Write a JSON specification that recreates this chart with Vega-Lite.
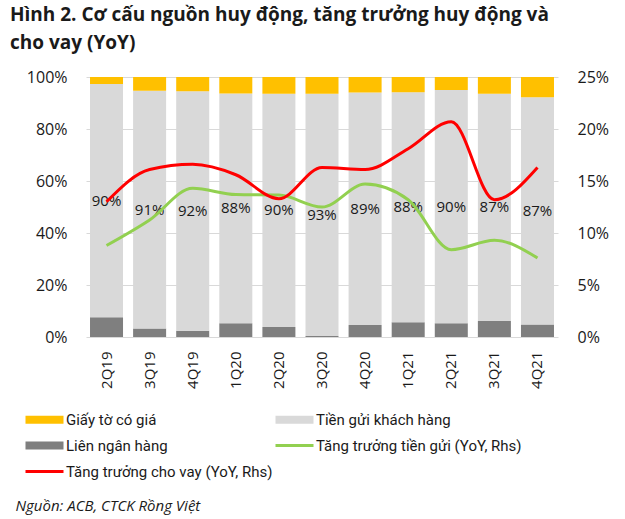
{
  "$schema": "https://vega.github.io/schema/vega-lite/v6.json",
  "width": 472,
  "height": 260,
  "autosize": {"type": "none"},
  "padding": {"left": 86, "top": 77, "right": 67, "bottom": 182},
  "background": "white",
  "config": {"font": "Open Sans", "view": {"stroke": null}},
  "title": {
    "text": ["Hình 2. Cơ cấu nguồn huy động, tăng trưởng huy động và", "cho vay (YoY)"],
    "anchor": "start",
    "frame": "group",
    "dx": -76,
    "fontSize": 19,
    "fontWeight": "bold",
    "font": "Open Sans",
    "color": "#1a1a1a",
    "lineHeight": 28,
    "offset": 16
  },
  "datasets": {
    "bars": [
      {"q": "2Q19", "cat": "Liên ngân hàng", "ord": 1, "value": 0.076},
      {"q": "2Q19", "cat": "Tiền gửi khách hàng", "ord": 2, "value": 0.897},
      {"q": "2Q19", "cat": "Giấy tờ có giá", "ord": 3, "value": 0.027},
      {"q": "3Q19", "cat": "Liên ngân hàng", "ord": 1, "value": 0.033},
      {"q": "3Q19", "cat": "Tiền gửi khách hàng", "ord": 2, "value": 0.914},
      {"q": "3Q19", "cat": "Giấy tờ có giá", "ord": 3, "value": 0.053},
      {"q": "4Q19", "cat": "Liên ngân hàng", "ord": 1, "value": 0.024},
      {"q": "4Q19", "cat": "Tiền gửi khách hàng", "ord": 2, "value": 0.921},
      {"q": "4Q19", "cat": "Giấy tờ có giá", "ord": 3, "value": 0.055},
      {"q": "1Q20", "cat": "Liên ngân hàng", "ord": 1, "value": 0.053},
      {"q": "1Q20", "cat": "Tiền gửi khách hàng", "ord": 2, "value": 0.884},
      {"q": "1Q20", "cat": "Giấy tờ có giá", "ord": 3, "value": 0.063},
      {"q": "2Q20", "cat": "Liên ngân hàng", "ord": 1, "value": 0.038},
      {"q": "2Q20", "cat": "Tiền gửi khách hàng", "ord": 2, "value": 0.898},
      {"q": "2Q20", "cat": "Giấy tờ có giá", "ord": 3, "value": 0.064},
      {"q": "3Q20", "cat": "Liên ngân hàng", "ord": 1, "value": 0.004},
      {"q": "3Q20", "cat": "Tiền gửi khách hàng", "ord": 2, "value": 0.932},
      {"q": "3Q20", "cat": "Giấy tờ có giá", "ord": 3, "value": 0.064},
      {"q": "4Q20", "cat": "Liên ngân hàng", "ord": 1, "value": 0.046},
      {"q": "4Q20", "cat": "Tiền gửi khách hàng", "ord": 2, "value": 0.894},
      {"q": "4Q20", "cat": "Giấy tờ có giá", "ord": 3, "value": 0.06},
      {"q": "1Q21", "cat": "Liên ngân hàng", "ord": 1, "value": 0.057},
      {"q": "1Q21", "cat": "Tiền gửi khách hàng", "ord": 2, "value": 0.884},
      {"q": "1Q21", "cat": "Giấy tờ có giá", "ord": 3, "value": 0.059},
      {"q": "2Q21", "cat": "Liên ngân hàng", "ord": 1, "value": 0.053},
      {"q": "2Q21", "cat": "Tiền gửi khách hàng", "ord": 2, "value": 0.897},
      {"q": "2Q21", "cat": "Giấy tờ có giá", "ord": 3, "value": 0.05},
      {"q": "3Q21", "cat": "Liên ngân hàng", "ord": 1, "value": 0.062},
      {"q": "3Q21", "cat": "Tiền gửi khách hàng", "ord": 2, "value": 0.874},
      {"q": "3Q21", "cat": "Giấy tờ có giá", "ord": 3, "value": 0.064},
      {"q": "4Q21", "cat": "Liên ngân hàng", "ord": 1, "value": 0.048},
      {"q": "4Q21", "cat": "Tiền gửi khách hàng", "ord": 2, "value": 0.874},
      {"q": "4Q21", "cat": "Giấy tờ có giá", "ord": 3, "value": 0.078}
    ],
    "lines": [
      {"q": "2Q19", "cat": "Tăng trưởng tiền gửi (YoY, Rhs)", "value": 0.088},
      {"q": "3Q19", "cat": "Tăng trưởng tiền gửi (YoY, Rhs)", "value": 0.1125},
      {"q": "4Q19", "cat": "Tăng trưởng tiền gửi (YoY, Rhs)", "value": 0.143},
      {"q": "1Q20", "cat": "Tăng trưởng tiền gửi (YoY, Rhs)", "value": 0.137},
      {"q": "2Q20", "cat": "Tăng trưởng tiền gửi (YoY, Rhs)", "value": 0.1365},
      {"q": "3Q20", "cat": "Tăng trưởng tiền gửi (YoY, Rhs)", "value": 0.125},
      {"q": "4Q20", "cat": "Tăng trưởng tiền gửi (YoY, Rhs)", "value": 0.147},
      {"q": "1Q21", "cat": "Tăng trưởng tiền gửi (YoY, Rhs)", "value": 0.132},
      {"q": "2Q21", "cat": "Tăng trưởng tiền gửi (YoY, Rhs)", "value": 0.084},
      {"q": "3Q21", "cat": "Tăng trưởng tiền gửi (YoY, Rhs)", "value": 0.093},
      {"q": "4Q21", "cat": "Tăng trưởng tiền gửi (YoY, Rhs)", "value": 0.076},
      {"q": "2Q19", "cat": "Tăng trưởng cho vay (YoY, Rhs)", "value": 0.13},
      {"q": "3Q19", "cat": "Tăng trưởng cho vay (YoY, Rhs)", "value": 0.161},
      {"q": "4Q19", "cat": "Tăng trưởng cho vay (YoY, Rhs)", "value": 0.166},
      {"q": "1Q20", "cat": "Tăng trưởng cho vay (YoY, Rhs)", "value": 0.156},
      {"q": "2Q20", "cat": "Tăng trưởng cho vay (YoY, Rhs)", "value": 0.133},
      {"q": "3Q20", "cat": "Tăng trưởng cho vay (YoY, Rhs)", "value": 0.163},
      {"q": "4Q20", "cat": "Tăng trưởng cho vay (YoY, Rhs)", "value": 0.161},
      {"q": "1Q21", "cat": "Tăng trưởng cho vay (YoY, Rhs)", "value": 0.181},
      {"q": "2Q21", "cat": "Tăng trưởng cho vay (YoY, Rhs)", "value": 0.207},
      {"q": "3Q21", "cat": "Tăng trưởng cho vay (YoY, Rhs)", "value": 0.132},
      {"q": "4Q21", "cat": "Tăng trưởng cho vay (YoY, Rhs)", "value": 0.163}
    ]
  },
  "layer": [
    {
      "data": {"name": "bars"},
      "layer": [
        {
          "mark": {"type": "bar"},
          "encoding": {
            "x": {
              "field": "q", "type": "nominal",
              "sort": ["2Q19","3Q19","4Q19","1Q20","2Q20","3Q20","4Q20","1Q21","2Q21","3Q21","4Q21"],
              "scale": {"paddingInner": 0.234, "paddingOuter": 0.093},
              "axis": {
                "title": "Nguồn: ACB, CTCK Rồng Việt",
                "titleX": -71, "titleY": 173, "titleAlign": "left", "titleAnchor": "start",
                "titleBaseline": "alphabetic",
                "titleFontStyle": "italic", "titleFontWeight": "normal", "titleFontSize": 15, "titleColor": "#1a1a1a",
                "labelAngle": -90, "labelAlign": "right", "labelBaseline": "middle",
                "labelFontSize": 15, "labelColor": "#1a1a1a", "labelPadding": 14,
                "ticks": false, "domain": false
              }
            },
            "y": {
              "field": "value", "type": "quantitative", "stack": "zero",
              "scale": {"domain": [0, 1], "nice": false},
              "axis": {
                "title": null, "format": ".0%", "values": [0, 0.2, 0.4, 0.6, 0.8, 1],
                "grid": true, "gridColor": "#d9d9d9", "gridWidth": 1,
                "domain": false, "ticks": false, "labelPadding": 19,
                "labelFontSize": 16, "labelColor": "#1a1a1a"
              }
            },
            "order": {"field": "ord", "type": "quantitative", "sort": "ascending"},
            "color": {
              "field": "cat", "type": "nominal",
              "scale": {
                "domain": ["Giấy tờ có giá", "Tiền gửi khách hàng", "Liên ngân hàng", "Tăng trưởng tiền gửi (YoY, Rhs)", "Tăng trưởng cho vay (YoY, Rhs)"],
                "range": ["#FFC000", "#D9D9D9", "#7F7F7F", "#92D050", "#FF0000"]
              },
              "legend": {
                "title": null, "orient": "none", "legendX": -63, "legendY": 335,
                "direction": "horizontal",
                "columns": 2, "columnPadding": 0, "rowPadding": 10,
                "symbolSize": 100, "labelOffset": 28, "labelLimit": 400,
                "labelFont": "Roboto",
                "labelFontSize": 15, "labelColor": "#1a1a1a",
                "encode": {
                  "symbols": {
                    "update": {
                      "shape": {"signal": "indexof(datum.value, 'Tăng trưởng') === 0 ? 'M-1,-0.3H6.6V0.3H-1Z' : 'M-1,-0.8H6.6V0.8H-1Z'"},
                      "fill": {"signal": "scale('color', datum.value)"},
                      "stroke": {"value": "transparent"},
                      "strokeWidth": {"value": 0},
                      "opacity": {"value": 1}
                    }
                  }
                }
              }
            }
          }
        },
        {
          "transform": [
            {"stack": "value", "groupby": ["q"], "sort": [{"field": "ord", "order": "ascending"}], "as": ["y0", "y1"]},
            {"filter": "datum.cat === 'Tiền gửi khách hàng'"},
            {"calculate": "(datum.y0 + datum.y1) / 2", "as": "mid"}
          ],
          "mark": {"type": "text", "fontSize": 15, "color": "#1a1a1a", "baseline": "middle", "align": "center"},
          "encoding": {
            "x": {"field": "q", "type": "nominal", "sort": ["2Q19","3Q19","4Q19","1Q20","2Q20","3Q20","4Q20","1Q21","2Q21","3Q21","4Q21"]},
            "y": {"field": "mid", "type": "quantitative", "scale": {"domain": [0, 1], "nice": false}},
            "text": {"field": "value", "type": "quantitative", "format": ".0%"}
          }
        }
      ]
    },
    {
      "data": {"name": "lines"},
      "layer": [
        {
          "transform": [{"filter": "datum.cat === 'Tăng trưởng tiền gửi (YoY, Rhs)'"}],
          "mark": {"type": "line", "strokeWidth": 3, "interpolate": "monotone"},
          "encoding": {
            "x": {"field": "q", "type": "nominal", "sort": ["2Q19","3Q19","4Q19","1Q20","2Q20","3Q20","4Q20","1Q21","2Q21","3Q21","4Q21"]},
            "y": {
              "field": "value", "type": "quantitative",
              "scale": {"domain": [0, 0.25], "nice": false},
              "axis": {
                "orient": "right", "title": null, "format": ".0%", "values": [0, 0.05, 0.1, 0.15, 0.2, 0.25],
                "grid": false, "domain": false, "ticks": false, "labelPadding": 19,
                "labelFontSize": 16, "labelColor": "#1a1a1a"
              }
            },
            "color": {"field": "cat", "type": "nominal"}
          }
        },
        {
          "transform": [{"filter": "datum.cat === 'Tăng trưởng cho vay (YoY, Rhs)'"}],
          "mark": {"type": "line", "strokeWidth": 3, "interpolate": "monotone"},
          "encoding": {
            "x": {"field": "q", "type": "nominal", "sort": ["2Q19","3Q19","4Q19","1Q20","2Q20","3Q20","4Q20","1Q21","2Q21","3Q21","4Q21"]},
            "y": {"field": "value", "type": "quantitative", "scale": {"domain": [0, 0.25], "nice": false}},
            "color": {"field": "cat", "type": "nominal"}
          }
        }
      ]
    }
  ],
  "resolve": {"scale": {"y": "independent"}}
}
